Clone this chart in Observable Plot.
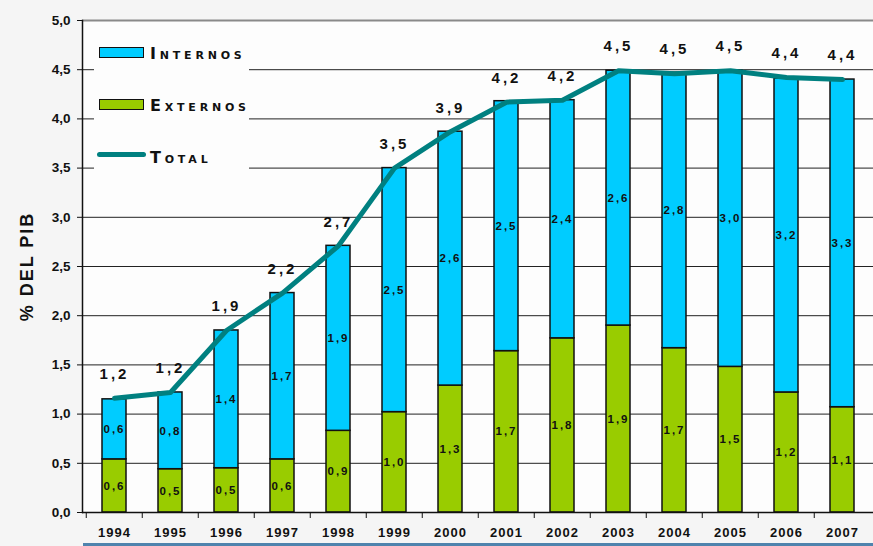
<!DOCTYPE html>
<html><head><meta charset="utf-8">
<script src="https://cdn.jsdelivr.net/npm/d3@7"></script>
<script src="https://cdn.jsdelivr.net/npm/@observablehq/plot@0.6"></script>
<style>
body{margin:0;background:#f5f5f5;}
#wrap{position:relative;width:873px;height:546px;overflow:hidden;}
#wrap svg{position:absolute;left:0;top:0;}
#legend{position:absolute;left:94px;top:25px;width:155px;height:145px;background:#fdfdfd;font-family:"DejaVu Sans",sans-serif;}
.sw{position:absolute;left:5px;width:43px;height:9px;border:1.5px solid #111;}
.ln{position:absolute;left:3px;width:49px;height:5px;border-radius:3px;background:#008080;}
.lbl{position:absolute;left:56px;font-weight:bold;font-size:16px;font-variant:small-caps;letter-spacing:3.8px;color:#111;white-space:nowrap;line-height:18px;}
#bline{position:absolute;left:83px;top:543px;width:790px;height:3px;background:#4f83ad;}
</style></head><body>
<div id="wrap">
  <div id="legend">
    <div class="sw" style="top:22px;background:#00CCFF"></div><div class="lbl" style="top:20px">Internos</div>
    <div class="sw" style="top:74px;background:#99CC00"></div><div class="lbl" style="top:72px">Externos</div>
    <div class="ln" style="top:127px"></div><div class="lbl" style="top:124px">Total</div>
  </div>
  <div id="bline"></div>
</div>
<script>
const years = ["1994","1995","1996","1997","1998","1999","2000","2001","2002","2003","2004","2005","2006","2007"];
const externos = [0.54,0.44,0.45,0.54,0.83,1.02,1.29,1.64,1.77,1.90,1.67,1.48,1.22,1.07];
const internos = [0.61,0.78,1.40,1.69,1.88,2.48,2.58,2.54,2.42,2.59,2.80,3.01,3.19,3.33];
const total = [1.16,1.22,1.85,2.23,2.71,3.50,3.87,4.17,4.19,4.49,4.46,4.49,4.42,4.40];
const externosLabels = ["0,6","0,5","0,5","0,6","0,9","1,0","1,3","1,7","1,8","1,9","1,7","1,5","1,2","1,1"];
const internosLabels = ["0,6","0,8","1,4","1,7","1,9","2,5","2,6","2,5","2,4","2,6","2,8","3,0","3,2","3,3"];
const totalLabels = ["1,2","1,2","1,9","2,2","2,7","3,5","3,9","4,2","4,2","4,5","4,5","4,5","4,4","4,4"];
const yTicks = [0,0.5,1,1.5,2,2.5,3,3.5,4,4.5,5];

const rows = years.map((y,i)=>({
  year:y, ext:externos[i], top:externos[i]+internos[i], total:total[i],
  extMid:externos[i]/2, intMid:externos[i]+internos[i]/2,
  extLbl:externosLabels[i], intLbl:internosLabels[i], totLbl:totalLabels[i]
}));
const fmt = d => d.toFixed(1).replace(".", ",");
const step = (873-82)/years.length;

const chart = Plot.plot({
  width:873, height:546,
  marginLeft:82, marginRight:0, marginTop:20, marginBottom:34,
  style:{background:"transparent", fontFamily:"'Liberation Sans', Arial, sans-serif", color:"#111"},
  x:{domain:years, paddingInner:0.575, paddingOuter:0.2875, align:0.5, label:null},
  y:{domain:[0,5], label:null},
  marks:[
    Plot.frame({fill:"#fdfdfd", stroke:null}),
    Plot.ruleY(yTicks.slice(1,-1), {stroke:"#222", strokeWidth:1}),
    Plot.ruleY([5], {stroke:"#8a8a8a", strokeWidth:2}),
    Plot.barY(rows, {x:"year", y1:0, y2:"ext", fill:"#99CC00", stroke:"#111", strokeWidth:1.5}),
    Plot.barY(rows, {x:"year", y1:"ext", y2:"top", fill:"#00CCFF", stroke:"#111", strokeWidth:1.5}),
    Plot.text(rows, {x:"year", y:"extMid", text:"extLbl", fontSize:11.5, fontWeight:"bold", fill:"#111"}),
    Plot.text(rows, {x:"year", y:"intMid", text:"intLbl", fontSize:11.5, fontWeight:"bold", fill:"#111"}),
    Plot.lineY(rows, {x:"year", y:"total", stroke:"#008080", strokeWidth:5, strokeLinejoin:"round", strokeLinecap:"round"}),
    Plot.text(rows, {x:"year", y:"total", text:"totLbl", dy:-24, fontSize:15, fontWeight:"bold", fill:"#111"}),
    Plot.ruleY([0], {stroke:"#111", strokeWidth:1.5}),
    Plot.frame({anchor:"left", stroke:"#111", strokeWidth:1.5}),
    Plot.axisY(yTicks, {tickFormat:fmt, tickSize:5, tickPadding:7, fontSize:13.5, fontWeight:"bold",
      label:"% DEL PIB", labelArrow:"none", labelAnchor:"center", labelOffset:62}),
    Plot.axisX({tickSize:0, tickPadding:15, fontSize:13, fontWeight:"bold", label:null}),
    Plot.axisX({tickSize:6, tickFormat:()=>"", dx:-step/2, label:null})
  ]
});
document.getElementById("wrap").prepend(chart);
chart.querySelectorAll('g[font-size="15"] text').forEach(t => t.style.letterSpacing = "3px");
chart.querySelectorAll('g[font-size="11.5"] text').forEach(t => t.style.letterSpacing = "2px");
chart.querySelectorAll('g[aria-label="x-axis tick label"] text').forEach(t => t.style.letterSpacing = "1px");
const yl = chart.querySelector('g[aria-label="y-axis label"] text');
if (yl) { yl.textContent = "% DEL PIB"; yl.style.fontSize = "18px"; yl.style.fontWeight = "bold"; yl.style.letterSpacing = "2px"; }
</script>
</body></html>
